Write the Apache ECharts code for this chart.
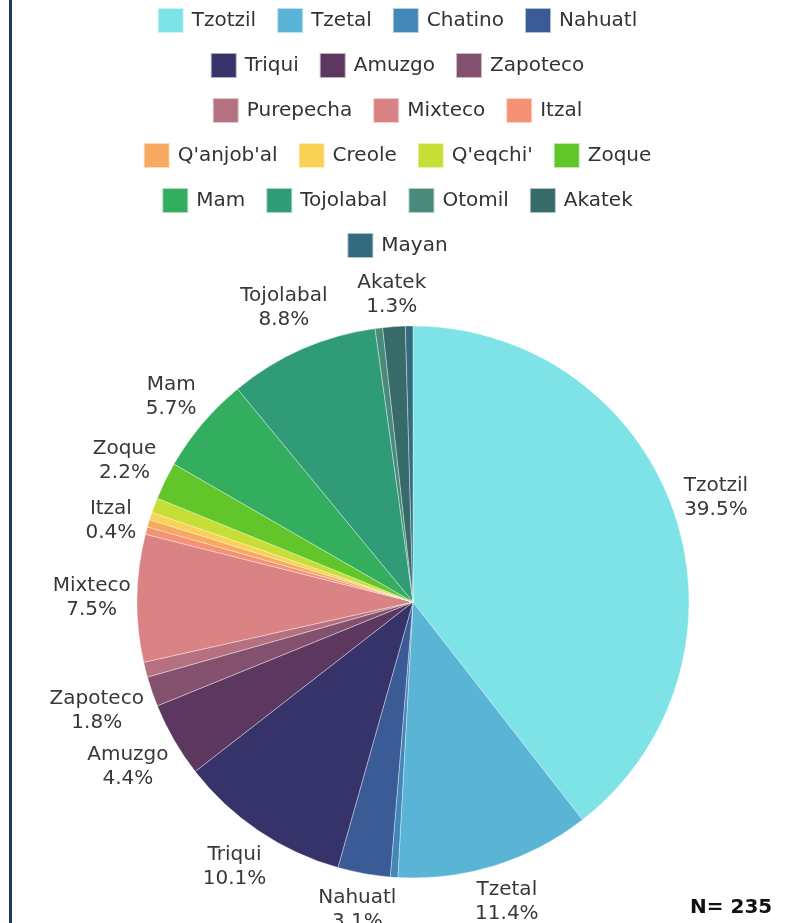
<!DOCTYPE html>
<html>
<head>
<meta charset="utf-8">
<script src="https://cdn.jsdelivr.net/npm/echarts@6/dist/echarts.min.js"></script>
<style>
  html, body { margin: 0; padding: 0; background: #ffffff; }
  #chart { width: 794px; height: 923px; }
</style>
</head>
<body>
<div id="chart"></div>
<script>
// ---- data ----
const categories = ["Tzotzil", "Tzetal", "Chatino", "Nahuatl", "Triqui", "Amuzgo", "Zapoteco",
  "Purepecha", "Mixteco", "Itzal", "Q'anjob'al", "Creole", "Q'eqchi'", "Zoque", "Mam",
  "Tojolabal", "Otomil", "Akatek", "Mayan"];
const counts = [90, 26, 1, 7, 23, 10, 4, 2, 17, 1, 1, 1, 2, 5, 13, 20, 1, 3, 1];
const colors = ["#7de3e6", "#5ab4d6", "#4287b8", "#3b5b96", "#36336a", "#5c3760", "#83516e",
  "#b5717f", "#da8384", "#f59276", "#f7a95f", "#f9d155", "#c6de35", "#62c62a", "#33ad5e",
  "#2f9c77", "#488b7b", "#366b6a", "#346a80"];
const unlabeled = ["Chatino", "Purepecha", "Q'anjob'al", "Creole", "Q'eqchi'", "Otomil", "Mayan"];
const legendRows = [
  ["Tzotzil", "Tzetal", "Chatino", "Nahuatl"],
  ["Triqui", "Amuzgo", "Zapoteco"],
  ["Purepecha", "Mixteco", "Itzal"],
  ["Q'anjob'al", "Creole", "Q'eqchi'", "Zoque"],
  ["Mam", "Tojolabal", "Otomil", "Akatek"],
  ["Mayan"]
];
const sampleNote = "N= 235";

// ---- layout ----
const CX = 413, CY = 602, R = 276, GAP = 6;
const FONT = "'DejaVu Sans', sans-serif";
const total = counts.reduce((a, b) => a + b, 0);

const chart = echarts.init(document.getElementById('chart'), null, { renderer: 'canvas' });

const legends = legendRows.map((row, i) => ({
  data: row,
  left: 'center',
  top: 2 + i * 45,
  orient: 'horizontal',
  icon: 'rect',
  itemWidth: 26,
  itemHeight: 25,
  itemGap: 20,
  selectedMode: false,
  textStyle: { fontFamily: FONT, fontSize: 20, color: '#333333', padding: [0, 0, 0, 3] }
}));

const option = {
  animation: false,
  color: colors,
  legend: legends,
  graphic: [
    { type: 'rect', left: 9, top: 0, shape: { width: 3, height: 923 }, style: { fill: '#1f3663' } },
    { type: 'text', left: 690, top: 898,
      style: { text: sampleNote, font: "bold 20px 'DejaVu Sans', sans-serif", fill: '#111111' } }
  ],
  series: [{
    type: 'pie',
    center: [CX, CY],
    radius: [0, R],
    startAngle: 90,
    clockwise: true,
    avoidLabelOverlap: false,
    silent: true,
    itemStyle: { borderColor: 'rgba(255,255,255,0.6)', borderWidth: 0.6 },
    label: {
      show: true,
      position: 'inside',
      fontFamily: FONT,
      fontSize: 20,
      lineHeight: 24,
      color: '#383838',
      align: 'center',
      formatter: p => p.name + '\n' + (p.value / total * 100).toFixed(1) + '%'
    },
    labelLine: { show: false },
    labelLayout: function (p) {
      const r = p.labelRect;
      if (!r || !r.width) return {};
      const lx = r.x + r.width / 2, ly = r.y + r.height / 2;
      const a = Math.atan2(ly - CY, lx - CX);
      const d = R + GAP + (r.width / 2) * Math.abs(Math.cos(a)) + (r.height / 2) * Math.abs(Math.sin(a));
      return { x: CX + d * Math.cos(a), y: CY + d * Math.sin(a), align: 'center', verticalAlign: 'middle' };
    },
    data: categories.map((name, i) => ({
      name: name,
      value: counts[i],
      label: { show: unlabeled.indexOf(name) < 0 }
    }))
  }]
};

chart.setOption(option);
</script>
</body>
</html>
